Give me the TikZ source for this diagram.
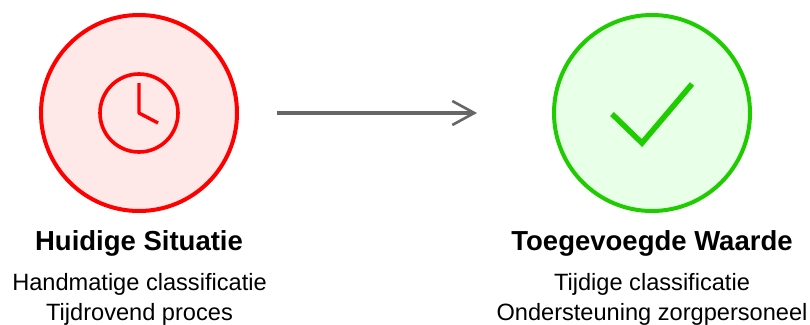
\documentclass[tikz,border=0pt]{standalone}
\usepackage{fontspec}
\setmainfont{Liberation Sans}
\usetikzlibrary{arrows.meta}
\definecolor{redc}{HTML}{FF0000}
\definecolor{redf}{HTML}{FFE8E8}
\definecolor{greenc}{HTML}{1FCC00}
\definecolor{greenf}{HTML}{E8FFE8}
\definecolor{arrowc}{HTML}{666666}
\tikzset{
  x=1pt,y=-1pt,
  bigcircle/.style={circle,minimum size=196pt,inner sep=0pt,line width=4pt},
  head/.style={font=\bfseries\fontsize{27.5}{27.5}\selectfont,anchor=base,inner sep=0pt},
  body/.style={font=\fontsize{23.6}{23.6}\selectfont,anchor=base,inner sep=0pt},
}
\begin{document}
\begin{tikzpicture}
\useasboundingbox (0,0) rectangle (810,324);
\node[bigcircle,draw=redc,fill=redf] (cl) at (139,113) {};
\node[circle,minimum size=78pt,inner sep=0pt,line width=3.6pt,draw=redc] (clock) at (cl.center) {};
\draw[redc,line width=3.4pt,line join=round] (139,83) -- (clock.center) -- (158,123);
\node[bigcircle,draw=greenc,fill=greenf] (cr) at (652,113) {};
\draw[greenc,line width=5.5pt,line join=miter] (612,114) -- (642,143) -- (692,84);
\coordinate (as) at (277,113);
\coordinate (ae) at (477,113);
\draw[arrowc,line width=3.6pt,-{Straight Barb[length=22pt,width=24pt,line width=2.6pt]}] (as) -- (ae);
\node[head] (h1) at (139,250.5) {Huidige Situatie};
\node[body] (b1) at (139.5,290) {Handmatige classificatie};
\node[body] (b2) at (139.5,320) {Tijdrovend proces};
\node[head] (h2) at (652,250.5) {Toegevoegde Waarde};
\node[body] (b3) at (652,290) {Tijdige classificatie};
\node[body] (b4) at (652,320) {Ondersteuning zorgpersoneel};
\end{tikzpicture}
\end{document}
